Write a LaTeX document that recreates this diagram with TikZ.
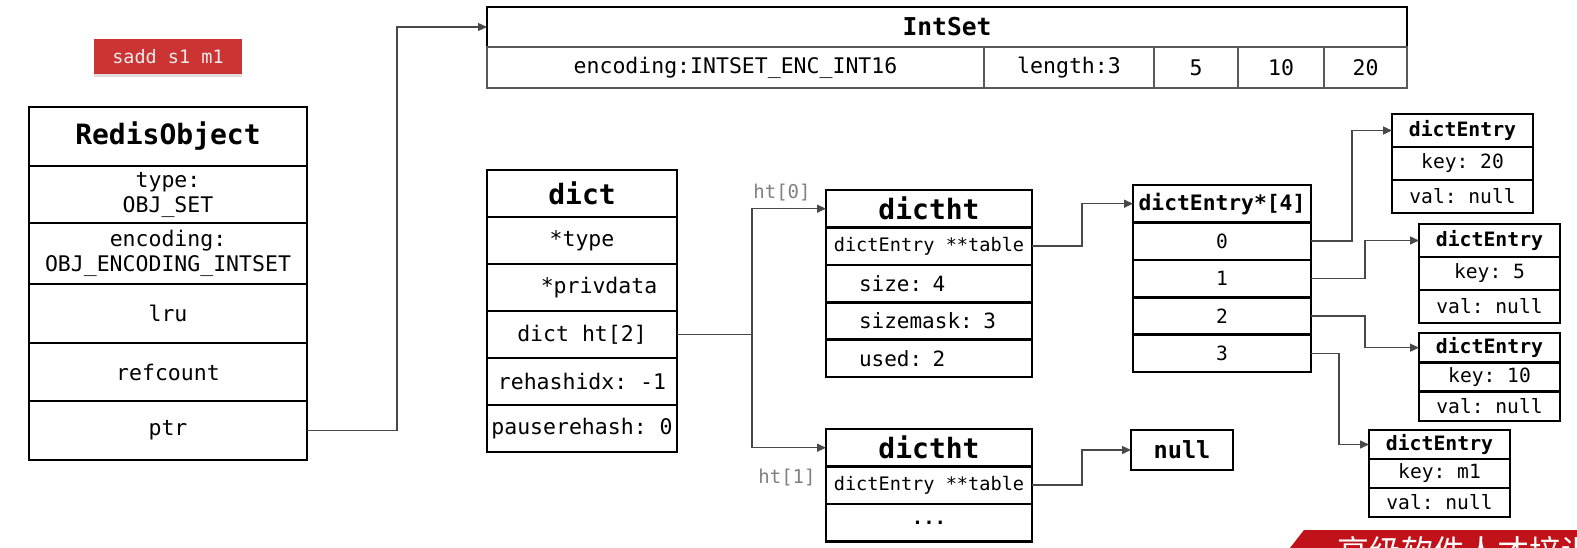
\documentclass[tikz,border=0pt]{standalone}
\usepackage{fontspec}
\setmonofont{DejaVu Sans Mono}
\newfontfamily\cjkfont{Noto Sans CJK SC}
\usetikzlibrary{arrows.meta, positioning, shadows}
\definecolor{btnred}{RGB}{204,52,52}
\definecolor{bannerred}{RGB}{192,18,24}
\definecolor{linkgray}{RGB}{72,72,72}
\tikzset{
  cellbox/.style={%
    draw,
    line width=2.6pt,
    outer sep=0pt,
    inner sep=0pt,
    align=center,
  },
  titlecell/.style={cellbox, font=\ttfamily\bfseries\fontsize{28}{30}\selectfont},
  fieldcell/.style={cellbox, font=\ttfamily\fontsize{21.5}{25}\selectfont},
  htfield/.style={cellbox, font=\ttfamily\fontsize{18.6}{20}\selectfont},
  entryhead/.style={cellbox, font=\ttfamily\bfseries\fontsize{19.8}{21}\selectfont},
  entryfield/.style={cellbox, font=\ttfamily\fontsize{19.6}{21}\selectfont},
  htlabel/.style={text=gray, font=\ttfamily\fontsize{19}{20}\selectfont},
  wire/.style={draw=linkgray, line width=1.3pt},
  link/.style={wire, -{Triangle[length=9pt,width=8pt]}},
}
\newcommand\DictEntry[5]{% name, x, y, key, row height
  \node (#1) [entryhead, minimum width=141pt, minimum height=#5pt, anchor=north west] at (#2,#3) {dictEntry};
  \node (#1key) [entryfield, minimum width=141pt, minimum height=#5pt, below=0pt of #1] {key: #4};
  \node (#1val) [entryfield, minimum width=141pt, minimum height=#5pt, below=0pt of #1key] {val: null};
}

\begin{document}
\begin{tikzpicture}[x=1pt, y=-1pt]
    \useasboundingbox[fill=white] (0,0) rectangle (1577,548);
    % command button
    \node (cmd) [fill=btnred, text=white!92!black, minimum width=148pt, minimum height=35pt,
                 inner sep=0pt, font=\ttfamily\fontsize{18.5}{20}\selectfont,
                 drop shadow={opacity=0.25, shadow xshift=0pt, shadow yshift=-3pt}]
        at (168,56.5) {sadd s1 m1};
    % RedisObject
    \begin{scope}[every node/.append style={minimum width=278pt}]
        \node (ro) [titlecell, minimum height=59pt, anchor=north west] at (29,107) {RedisObject};
        \node (rotype) [fieldcell, minimum height=57pt, below=0pt of ro] {type:\\OBJ\_SET};
        \node (roenc) [fieldcell, minimum height=61pt, below=0pt of rotype] {encoding:\\OBJ\_ENCODING\_INTSET};
        \node (rolru) [fieldcell, minimum height=59pt, below=0pt of roenc] {lru};
        \node (roref) [fieldcell, minimum height=58pt, below=0pt of rolru] {refcount};
        \node (roptr) [fieldcell, minimum height=59pt, below=0pt of roref] {ptr};
    \end{scope}
    % IntSet
    \node (intset) [cellbox, minimum width=920pt, minimum height=40pt, anchor=north west,
                    font=\ttfamily\bfseries\fontsize{24.6}{26}\selectfont] at (487,7) {IntSet};
    \begin{scope}[every node/.append style={fieldcell, draw=black!65, minimum height=41pt}]
        \node (isenc) [minimum width=497pt, anchor=north west] at (intset.south west) {encoding:INTSET\_ENC\_INT16};
        \node (islen) [minimum width=170pt, right=0pt of isenc] {length:3};
        \node (is5) [minimum width=84pt, right=0pt of islen] {5};
        \node (is10) [minimum width=86pt, right=0pt of is5] {10};
        \node (is20) [minimum width=83pt, right=0pt of is10] {20};
    \end{scope}
    % dict
    \begin{scope}[every node/.append style={minimum width=190pt, minimum height=47pt}]
        \node (dict) [titlecell, anchor=north west] at (487,170) {dict};
        \node (dtype) [fieldcell, below=0pt of dict] {*type};
        \node (dpriv) [fieldcell, below=0pt of dtype] {\hspace*{34pt}*privdata};
        \node (dht) [fieldcell, below=0pt of dpriv] {dict ht[2]};
        \node (drehash) [fieldcell, below=0pt of dht] {rehashidx: -1};
        \node (dpause) [fieldcell, below=0pt of drehash] {pauserehash: 0};
    \end{scope}
    % dictht ht[0] and ht[1]
    \begin{scope}[every node/.append style={minimum width=206pt, minimum height=37.4pt}]
        \node (ht0) [titlecell, anchor=north west] at (826,190) {dictht};
        \node (ht0table) [htfield, below=0pt of ht0] {dictEntry **table};
        \node (ht0size) [fieldcell, font=\ttfamily\fontsize{21}{23}\selectfont, align=left, text width=140pt, below=0pt of ht0table] {size: 4};
        \node (ht0mask) [fieldcell, font=\ttfamily\fontsize{21}{23}\selectfont, align=left, text width=140pt, below=0pt of ht0size] {sizemask: 3};
        \node (ht0used) [fieldcell, font=\ttfamily\fontsize{21}{23}\selectfont, align=left, text width=140pt, below=0pt of ht0mask] {used: 2};
        \node (ht1) [titlecell, anchor=north west] at (826,429) {dictht};
        \node (ht1table) [htfield, below=0pt of ht1] {dictEntry **table};
        \node (ht1more) [htfield, font=\ttfamily\bfseries\fontsize{19}{20}\selectfont, below=0pt of ht1table] {...};
    \end{scope}
    \node (ht0label) [htlabel] at (782,193) {ht[0]};
    \node (ht1label) [htlabel] at (787,478) {ht[1]};
    % bucket array
    \begin{scope}[every node/.append style={minimum width=178pt, minimum height=37.4pt}]
        \node (arr) [cellbox, anchor=north west, font=\ttfamily\bfseries\fontsize{21.3}{23}\selectfont]
            at (1133,185) {dictEntry*[4]};
        \node (arr0) [entryfield, below=0pt of arr] {0};
        \node (arr1) [entryfield, below=0pt of arr0] {1};
        \node (arr2) [entryfield, below=0pt of arr1] {2};
        \node (arr3) [entryfield, below=0pt of arr2] {3};
    \end{scope}
    \node (null) [cellbox, minimum width=102pt, minimum height=40pt, anchor=north west,
                  font=\ttfamily\bfseries\fontsize{23.6}{25}\selectfont] at (1131,430) {null};
    % entries
    \DictEntry{e20}{1392}{114}{20}{33}
    \DictEntry{e5}{1419}{224}{5}{33}
    \DictEntry{e10}{1419}{333}{10}{29.3}
    \DictEntry{em1}{1369}{430}{m1}{29}
    % connectors
    \draw [link] (roptr.east) -- ++(90,0) |- (intset.west);
    \draw [wire] (dht.east) -- ++(75,0) coordinate (split);
    \draw [link] (split) |- (ht0.west);
    \draw [link] (split) |- (ht1.west);
    \draw [link] (ht0table.east) -- ++(50,0) |- (arr.west);
    \draw [link] (ht1table.east) -- ++(50,0) |- (null.west);
    \draw [link] (arr0.east) -- ++(41,0) |- (e20.west);
    \draw [link] (arr1.east) -- ++(54,0) |- (e5.west);
    \draw [link] (arr2.east) -- ++(54,0) |- (e10.west);
    \draw [link] (arr3.east) -- ++(28,0) |- (em1.west);
    % banner
    \fill [bannerred] (1290,548) -- (1304,530) -- (1577,530) -- (1577,548) -- cycle;
    \begin{scope}
        \clip (1290,530) rectangle (1577,548);
        \node (slogan) [anchor=base west, text=white, inner sep=0pt,
                        font=\cjkfont\fontsize{32}{34}\selectfont] at (1337,563) {高级软件人才培训专家};
    \end{scope}
\end{tikzpicture}
\end{document}
